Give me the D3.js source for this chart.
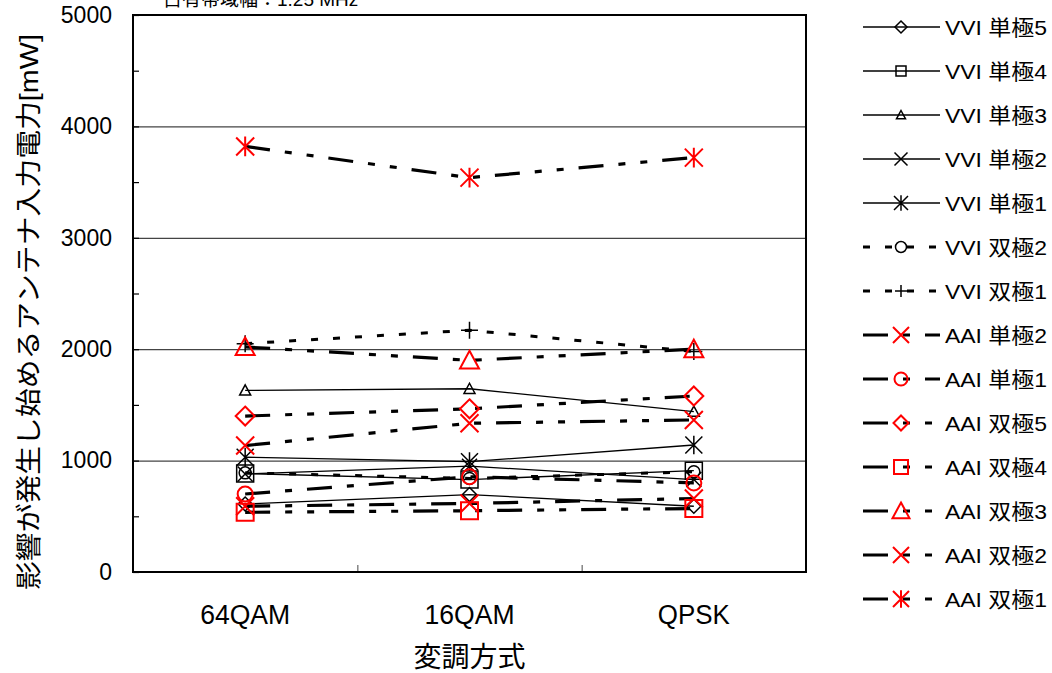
<!DOCTYPE html>
<html>
<head>
<meta charset="utf-8">
<script src="https://cdn.jsdelivr.net/npm/d3@7"></script>
<style>
  body { margin: 0; background: #fff; }
  text { font-family: "Liberation Sans", "Noto Sans CJK JP", sans-serif; }
</style>
</head>
<body>
<script>
// data (mW)
const categories = ["64QAM", "16QAM", "QPSK"];
const seriesNames = ["VVI 単極5", "VVI 単極4", "VVI 単極3", "VVI 単極2", "VVI 単極1",
                     "VVI 双極2", "VVI 双極1", "AAI 単極2", "AAI 単極1", "AAI 双極5",
                     "AAI 双極4", "AAI 双極3", "AAI 双極2", "AAI 双極1"];
const vviUni5 = [610, 695, 590];
const vviUni4 = [884, 830, 910];
const vviUni3 = [1630, 1645, 1440];
const vviUni2 = [880, 950, 830];
const vviUni1 = [1030, 990, 1140];
const vviBi2  = [890, 840, 900];
const vviBi1  = [2050, 2170, 1980];
const aaiUni2 = [590, 615, 660];
const aaiUni1 = [700, 855, 800];
const aaiBi5  = [1400, 1465, 1580];
const aaiBi4  = [536, 550, 570];
const aaiBi3  = [2020, 1900, 2000];
const aaiBi2  = [1135, 1335, 1365];
const aaiBi1  = [3820, 3540, 3720];
const yTicks = [0, 1000, 2000, 3000, 4000, 5000];
const yMinorTicks = d3.range(0, 5001, 500);

const allValues = [vviUni5, vviUni4, vviUni3, vviUni2, vviUni1, vviBi2, vviBi1,
                   aaiUni2, aaiUni1, aaiBi5, aaiBi4, aaiBi3, aaiBi2, aaiBi1];

// look of each series: marker, colour, line style
const thin = {width: 1.3, dash: null};
const dotted = {width: 3, dash: "7,15"};
const dashDotDot = {width: 3.2, dash: "25,15,7,15,7,15"};
const dashDot = {width: 3.2, dash: "25,15,7,15"};
const looks = [
  {m: "diamond", c: "#000", s: 14, ls: 12, line: thin},
  {m: "square", c: "#000", s: 17, ls: 10, line: thin},
  {m: "triangle", c: "#000", s: 11, ls: 9, line: thin},
  {m: "x", c: "#000", s: 15, ls: 13, line: thin},
  {m: "star", c: "#000", s: 17, ls: 14, line: thin},
  {m: "circle", c: "#000", s: 12, ls: 11, line: dotted},
  {m: "plus", c: "#000", s: 17, ls: 12, line: dotted},
  {m: "x", c: "#ff0000", s: 18, ls: 16, line: dashDot},
  {m: "circle", c: "#ff0000", s: 15, ls: 13, line: dashDot},
  {m: "diamond", c: "#ff0000", s: 19, ls: 15, line: dashDotDot},
  {m: "square", c: "#ff0000", s: 17, ls: 14, line: dashDotDot},
  {m: "triangle", c: "#ff0000", s: 19, ls: 17, line: dashDotDot},
  {m: "x", c: "#ff0000", s: 18, ls: 16, line: dashDotDot},
  {m: "star", c: "#ff0000", s: 18, ls: 16, line: dashDotDot}
];

const series = seriesNames.map((name, i) => ({name: name, values: allValues[i], look: looks[i]}));

function markerPath(type, size) {
  let h = size / 2;
  if (type === "diamond") return `M0,${-h}L${h},0L0,${h}L${-h},0Z`;
  if (type === "square") return `M${-h},${-h}H${h}V${h}H${-h}Z`;
  if (type === "triangle") return `M0,${-h}L${h},${h * 0.85}L${-h},${h * 0.85}Z`;
  if (type === "x") return `M${-h},${-h}L${h},${h}M${h},${-h}L${-h},${h}`;
  if (type === "star") return `M${-h},${-h}L${h},${h}M${h},${-h}L${-h},${h}M0,${-h * 1.1}V${h * 1.1}`;
  if (type === "plus") return `M${-h},0H${h}M0,${-h}V${h}`;
  if (type === "circle") return d3.arc()({innerRadius: 0, outerRadius: h, startAngle: 0, endAngle: 2 * Math.PI}).split("L")[0] + "Z";
  return "";
}

const W = 1052, H = 673;
const plot = {left: 133, right: 806, top: 15, bottom: 572};

const svg = d3.select("body").append("svg")
  .attr("width", W)
  .attr("height", H);

const xBand = d3.scaleBand().domain(categories).range([plot.left, plot.right]);
const x = d => xBand(d) + xBand.bandwidth() / 2;
const y = d3.scaleLinear().domain([0, 5000]).range([plot.bottom, plot.top]);

// gridlines
svg.append("g")
  .attr("transform", `translate(${plot.left},0)`)
  .call(d3.axisLeft(y).tickValues(yTicks.slice(1, -1)).tickSize(-(plot.right - plot.left)).tickFormat(""))
  .call(g => g.select(".domain").remove())
  .call(g => g.selectAll("line").attr("stroke", "#444").attr("stroke-width", 1.2));

// minor ticks on the left, pointing inwards
svg.append("g")
  .attr("transform", `translate(${plot.left},0)`)
  .call(d3.axisRight(y).tickValues(yMinorTicks).tickSize(6).tickFormat(""))
  .call(g => g.select(".domain").remove())
  .call(g => g.selectAll("line").attr("stroke", "#000").attr("stroke-width", 1.2));

// y tick labels
svg.append("g")
  .attr("transform", `translate(${plot.left},0)`)
  .call(d3.axisLeft(y).tickValues(yTicks).tickSize(0).tickPadding(21).tickFormat(d3.format("d")))
  .call(g => g.select(".domain").remove())
  .call(g => g.selectAll("text").attr("font-size", 23).attr("fill", "#000")
    .attr("font-family", "Liberation Sans, sans-serif"));

// category boundary ticks at the bottom
svg.append("g")
  .attr("transform", `translate(0,${plot.bottom})`)
  .call(d3.axisTop(d3.scaleLinear().domain([0, 3]).range([plot.left, plot.right])).tickValues([1, 2]).tickSize(7).tickFormat(""))
  .call(g => g.select(".domain").remove())
  .call(g => g.selectAll("line").attr("stroke", "#666").attr("stroke-width", 1.2));

// x category labels
svg.append("g")
  .selectAll("text")
  .data(categories)
  .enter()
  .append("text")
  .attr("x", d => x(d))
  .attr("y", 624)
  .attr("text-anchor", "middle")
  .attr("font-size", 27)
  .attr("textLength", d => d === "QPSK" ? 72 : 90)
  .attr("lengthAdjust", "spacingAndGlyphs")
  .text(d => d);

// plot frame
svg.append("rect")
  .attr("x", plot.left)
  .attr("y", plot.top)
  .attr("width", plot.right - plot.left)
  .attr("height", plot.bottom - plot.top)
  .attr("fill", "none")
  .attr("stroke", "#000")
  .attr("stroke-width", 2);

// lines
const line = d3.line().x((d, i) => x(categories[i])).y(d => y(d));
svg.selectAll(".series-line")
  .data(series)
  .enter()
  .append("path")
  .attr("class", "series-line")
  .attr("d", d => line(d.values))
  .attr("fill", "none")
  .attr("stroke", "#000")
  .attr("stroke-width", d => d.look.line.width)
  .attr("stroke-dasharray", d => d.look.line.dash);

// markers
series.forEach(s => {
  svg.append("g")
    .selectAll("path")
    .data(s.values)
    .enter()
    .append("path")
    .attr("transform", (d, i) => `translate(${x(categories[i])},${y(d)})`)
    .attr("d", markerPath(s.look.m, s.look.s))
    .attr("fill", "none")
    .attr("stroke", s.look.c)
    .attr("stroke-width", s.look.c === "#000" ? 1.5 : 2);
});

// axis titles
svg.append("text")
  .attr("x", (plot.left + plot.right) / 2)
  .attr("y", 667)
  .attr("text-anchor", "middle")
  .attr("font-size", 28)
  .attr("font-family", "Noto Sans CJK JP")
  .text("変調方式");

svg.append("text")
  .attr("transform", "translate(38,312) rotate(-90)")
  .attr("text-anchor", "middle")
  .attr("font-size", 26)
  .attr("font-family", "Noto Sans CJK JP")
  .attr("textLength", 556)
  .attr("lengthAdjust", "spacingAndGlyphs")
  .text("影響が発生し始めるアンテナ入力電力[mW]");

// note, cut off at the top edge as in the original
svg.append("text")
  .attr("x", 163)
  .attr("y", 6)
  .attr("font-size", 19)
  .attr("font-family", "DejaVu Serif, Noto Sans CJK JP, serif")
  .text("占有帯域幅：1.25 MHz");

// legend
const legend = svg.append("g");
const legendY = i => 27 + i * 44;
series.forEach((s, i) => {
  let g = legend.append("g").attr("transform", `translate(0,${legendY(i)})`);
  g.append("line")
    .attr("x1", 863).attr("x2", 940)
    .attr("stroke", "#000")
    .attr("stroke-width", s.look.line.width)
    .attr("stroke-dasharray", s.look.line.dash);
  g.append("path")
    .attr("transform", "translate(901,0)")
    .attr("d", markerPath(s.look.m, s.look.ls))
    .attr("fill", "none")
    .attr("stroke", s.look.c)
    .attr("stroke-width", s.look.c === "#000" ? 1.5 : 2);
  g.append("text")
    .attr("x", 945)
    .attr("y", 0)
    .attr("dy", "0.36em")
    .attr("font-size", 21)
    .attr("textLength", 102)
    .attr("lengthAdjust", "spacingAndGlyphs")
    .text(s.name);
});
</script>
</body>
</html>
